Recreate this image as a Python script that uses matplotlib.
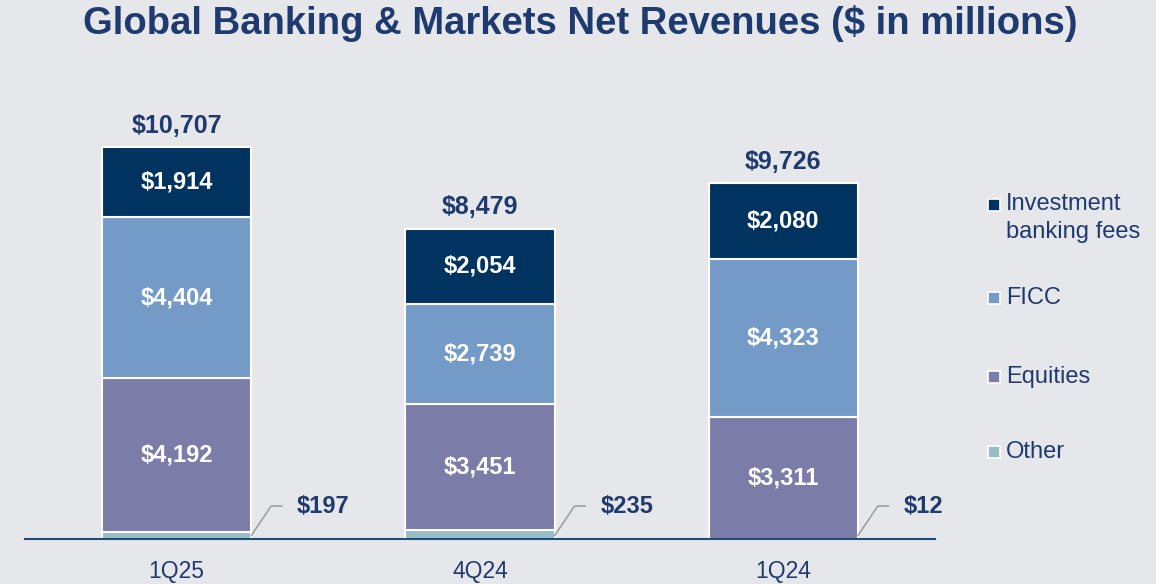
import matplotlib.pyplot as plt
from matplotlib.patches import Rectangle

plt.rcParams['font.family'] = ['Liberation Sans', 'DejaVu Sans']

quarters = ['1Q25', '4Q24', '1Q24']
other = [197, 235, 12]
equities = [4192, 3451, 3311]
ficc = [4404, 2739, 4323]
ib_fees = [1914, 2054, 2080]
totals = [10707, 8479, 9726]

series = [
    ('Other', other, '#97bec7'),
    ('Equities', equities, '#7c7ca9'),
    ('FICC', ficc, '#749bc7'),
    ('Investment\nbanking fees', ib_fees, '#00335f'),
]

bg = '#e6e7ea'
navy = '#1e3a6e'

fig = plt.figure(figsize=(11.56, 5.84), dpi=100, facecolor=bg)
ax = fig.add_axes([25 / 1156, 45 / 584, 910 / 1156, 479 / 584], facecolor=bg)

x = list(range(len(quarters)))
width = 0.493
bottom = [0] * len(quarters)
for name, vals, color in series:
    ax.bar(x, vals, width, bottom=bottom, color=color, edgecolor='white', linewidth=1.5, zorder=2)
    if name != 'Other':
        for i, v in enumerate(vals):
            ax.text(x[i], bottom[i] + v / 2, f'${v:,}', ha='center', va='center',
                    color='white', fontsize=17, fontweight='bold', zorder=3)
    bottom = [b + v for b, v in zip(bottom, vals)]

for i, t in enumerate(totals):
    ax.text(x[i], t + 250, f'${t:,}', ha='center', va='bottom', color=navy,
            fontsize=18, fontweight='bold')

# leader lines for the thin "Other" segments
for i, v in enumerate(other):
    xr = x[i] + width / 2
    ax.plot([xr, xr + 0.065, xr + 0.1], [100, 900, 900], color='#a0a0a0', lw=1.2, zorder=3)
    ax.text(xr + 0.15, 880, f'${v:,}', ha='left', va='center', color=navy,
            fontsize=17, fontweight='bold')

ax.set_xlim(-0.5, 2.5)
ax.set_ylim(0, 479 / 0.03661)
for s in ['top', 'left', 'right']:
    ax.spines[s].set_visible(False)
ax.spines['bottom'].set_color('#1f4e79')
ax.spines['bottom'].set_linewidth(1.5)
ax.set_yticks([])
ax.set_xticks(x)
ax.set_xticklabels(quarters, fontsize=16.5, color=navy)
ax.tick_params(axis='x', length=0, pad=15)

fig.text(0.502, 1 - 24 / 584, 'Global Banking & Markets Net Revenues ($ in millions)',
         ha='center', va='center', fontsize=27.5, fontweight='bold', color=navy)

# legend
legend_y = [205, 298, 377, 452]
for (name, vals, color), ly in zip(series[::-1], legend_y):
    fig.patches.append(Rectangle((988 / 1156, 1 - (ly + 6) / 584), 12 / 1156, 12 / 584,
                                 transform=fig.transFigure, facecolor=color,
                                 edgecolor='white', linewidth=1.2))
    if '\n' in name:
        fig.text(1006 / 1156, 1 - (ly + 13) / 584, name, ha='left', va='center',
                 fontsize=17, color=navy, linespacing=1.3)
    else:
        fig.text(1006 / 1156, 1 - ly / 584, name, ha='left', va='center',
                 fontsize=17, color=navy)

fig.savefig('out.png', dpi=100, facecolor=bg)
